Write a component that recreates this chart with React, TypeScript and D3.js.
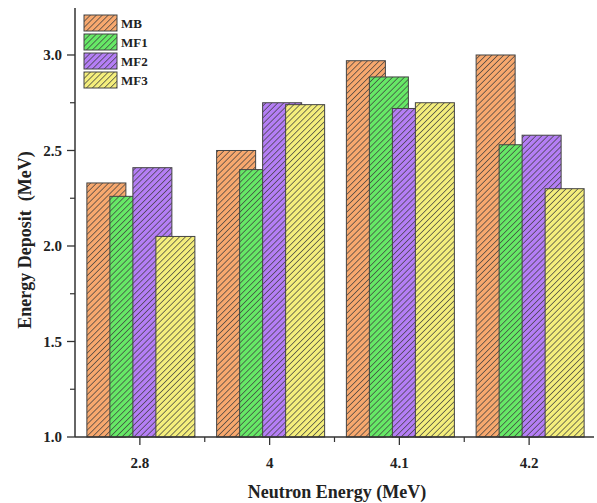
import * as d3 from "d3";

const categories = ["2.8", "4", "4.1", "4.2"];
const seriesNames = ["MB", "MF1", "MF2", "MF3"];
const mbValues = [2.33, 2.5, 2.97, 3.0];
const mf1Values = [2.26, 2.4, 2.885, 2.53];
const mf2Values = [2.41, 2.75, 2.72, 2.58];
const mf3Values = [2.05, 2.74, 2.75, 2.3];
const yTicks = [1.0, 1.5, 2.0, 2.5, 3.0];
const colors = ["#f7a86e", "#66e866", "#b47ef5", "#f4ee7c"];

const W = 597;
const H = 503;
const FONT = "Liberation Serif";

export default function App() {
  const series = [mbValues, mf1Values, mf2Values, mf3Values];
  const x = d3.scaleBand<string>().domain(categories).range([75, 594]);
  const y = d3.scaleLinear().domain([1, 3.246]).range([437, 8]);
  const minorY = d3.range(1.25, 3.25, 0.5);
  const barW = 39;
  const barStep = 23;
  const barStart = -53;
  const txt = { fontFamily: FONT, fontWeight: 700, fill: "#222" } as const;

  return (
    <svg width={W} height={H} style={{ position: "absolute", left: 0, top: 0, background: "#fff" }}>
      <defs>
        {colors.map((c, i) => (
          <pattern key={i} id={`hatch${i}`} width={4.2} height={4.2} patternUnits="userSpaceOnUse" patternTransform="rotate(45)">
            <rect width={4.2} height={4.2} fill={c} />
            <line x1={0.4} y1={0} x2={0.4} y2={4.2} stroke="#3c3c3c" strokeWidth={0.7} />
          </pattern>
        ))}
      </defs>

      {categories.map((cat, ci) => {
        const cx = x(cat)! + x.bandwidth() / 2;
        return (
          <g key={cat}>
            {series.map((vals, si) => (
              <rect key={si} x={cx + barStart + si * barStep} y={y(vals[ci])} width={barW} height={y(1) - y(vals[ci])}
                fill={`url(#hatch${si})`} stroke="#444" strokeWidth={1} />
            ))}
          </g>
        );
      })}

      {/* axes */}
      <line x1={75} y1={8} x2={75} y2={437} stroke="#333" strokeWidth={1.5} />
      <line x1={75} y1={437} x2={594} y2={437} stroke="#333" strokeWidth={1.5} />
      {yTicks.map((t) => (
        <g key={t}>
          <line x1={67} x2={75} y1={y(t)} y2={y(t)} stroke="#333" strokeWidth={1.3} />
          <text x={62} y={y(t)} dy="0.35em" textAnchor="end" fontSize={15} style={txt}>
            {t.toFixed(1)}
          </text>
        </g>
      ))}
      {minorY.map((t) => (
        <line key={t} x1={70} x2={75} y1={y(t)} y2={y(t)} stroke="#333" strokeWidth={1.2} />
      ))}
      {categories.map((cat) => {
        const cx = x(cat)! + x.bandwidth() / 2;
        return (
          <g key={cat}>
            <line x1={cx} x2={cx} y1={437} y2={445} stroke="#333" strokeWidth={1.3} />
            <text x={cx} y={468} textAnchor="middle" fontSize={15} style={txt}>{cat}</text>
          </g>
        );
      })}
      {categories.slice(1).map((cat) => (
        <line key={cat} x1={x(cat)!} x2={x(cat)!} y1={437} y2={442} stroke="#333" strokeWidth={1.2} />
      ))}

      <text x={337} y={498} textAnchor="middle" fontSize={18} style={txt}>
        Neutron Energy (MeV)
      </text>
      <text transform="translate(31,240) rotate(-90)" textAnchor="middle" fontSize={18} style={{ ...txt, whiteSpace: "pre" }}>
        {"Energy Deposit  (MeV)"}
      </text>

      {/* legend */}
      {seriesNames.map((name, i) => (
        <g key={name} transform={`translate(84,${15 + i * 19})`}>
          <rect width={33} height={16} fill={`url(#hatch${i})`} stroke="#444" strokeWidth={1} />
          <text x={37} y={8} dy="0.35em" fontSize={13} style={txt}>{name}</text>
        </g>
      ))}
    </svg>
  );
}
